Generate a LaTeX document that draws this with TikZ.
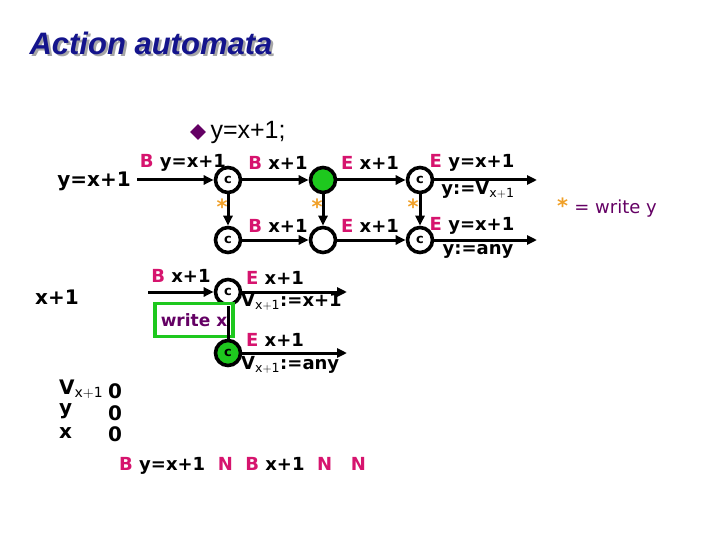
\documentclass[tikz,border=0pt]{standalone}
\usepackage{fontspec}
\setmainfont{DejaVu Sans}
\newfontfamily\arialf{Liberation Sans}
\usetikzlibrary{arrows.meta,shapes.geometric}
\definecolor{mag}{RGB}{214,20,110}
\definecolor{navy}{RGB}{20,20,140}
\definecolor{purp}{RGB}{100,0,100}
\definecolor{org}{RGB}{240,160,40}
\definecolor{grn}{RGB}{30,200,30}
\newcommand{\Bm}{\textcolor{mag}{B}}
\newcommand{\Em}{\textcolor{mag}{E}}
\newcommand{\Vx}{V$_{\mathrm{\scriptstyle x+1}}$}
\begin{document}
\begin{tikzpicture}[x=1pt,y=-1pt,
  st/.style={circle,draw,line width=3.6pt,minimum size=25pt,inner sep=0pt,font=\bfseries\fontsize{13}{13}\selectfont},
  ln/.style={line width=3pt},
  ar/.style={ln,-{Triangle[length=10pt,width=9pt]}},
  lb/.style={font=\bfseries\fontsize{18}{18}\selectfont,inner sep=1pt},
  bl/.style={font=\bfseries\fontsize{20}{20}\selectfont,inner sep=1pt},
  star/.style={text=org,font=\bfseries\fontsize{21}{21}\selectfont,inner sep=0pt}]
\useasboundingbox (0,0) rectangle (720,540);
% title
\node[anchor=west,font=\arialf\bfseries\itshape\fontsize{31}{31}\selectfont,text=black!35] (shadow) at (28.5,45.5) {Action automata};
\node[anchor=west,font=\arialf\bfseries\itshape\fontsize{31}{31}\selectfont,text=navy] (title) at (26,43) {Action automata};
\node[diamond,fill=purp,minimum size=16pt,inner sep=0pt] (bul) at (198,132) {};
\node[anchor=west,font=\arialf\fontsize{25}{25}\selectfont] (code) at (207,132) {y=x+1;};
% states
\node[st] (c1) at (228,180) {c};
\node[st,fill=grn] (g1) at (323,180) {};
\node[st] (c3) at (420,180) {c};
\node[st] (c4) at (228,240) {c};
\node[st] (e2) at (323,240) {};
\node[st] (c6) at (420,240) {c};
\node[st] (c7) at (228,292) {c};
\node[st,fill=grn] (c8) at (228,353) {c};
\coordinate (s1) at (137,180);
\coordinate (t1) at (537,180);
\coordinate (t2) at (537,240);
\coordinate (s3) at (148,292);
\coordinate (t3) at (347,292);
\coordinate (t4) at (347,353);
\draw[ar] (s1) -- (c1);
\draw[ar] (c1) -- (g1);
\draw[ar] (g1) -- (c3);
\draw[ar] (c3) -- (t1);
\draw[ar] (c4) -- (e2);
\draw[ar] (e2) -- (c6);
\draw[ar] (c6) -- (t2);
\draw[ar] (c1) -- (c4);
\draw[ar] (g1) -- (e2);
\draw[ar] (c3) -- (c6);
\draw[ar] (s3) -- (c7);
\draw[ar] (c7) -- (t3);
\draw[ar] (c8) -- (t4);
\node[draw=grn,line width=3.5pt,fill=white,minimum width=78pt,minimum height=33pt,inner sep=0pt,text=purp,font=\bfseries\fontsize{17}{17}\selectfont] (wx) at (194,320) {write x};
\draw[ln] (c7) -- (c8);
\node[star] (st1) at (222,207) {*};
\node[star] (st2) at (317,207) {*};
\node[star] (st3) at (413,207) {*};
% labels
\node[bl,anchor=east] (l0) at (132,181) {y=x+1};
\node[lb] (l1) at (183,163) {\Bm{} y=x+1};
\node[lb] (l2) at (278,163) {\Bm{} x+1};
\node[lb] (l3) at (370,163) {\Em{} x+1};
\node[lb] (l4) at (472,163) {\Em{} y=x+1};
\node[lb] (l5) at (478,190) {y:=\Vx};
\node[lb] (l6) at (278,226) {\Bm{} x+1};
\node[lb] (l7) at (370,226) {\Em{} x+1};
\node[lb] (l8) at (472,226) {\Em{} y=x+1};
\node[lb] (l9) at (478,251) {y:=any};
\node[bl] (x1) at (57,297) {x+1};
\node[lb] (l10) at (181,276) {\Bm{} x+1};
\node[lb] (l11) at (275,278) {\Em{} x+1};
\node[lb,anchor=west] (l12) at (240,302) {\Vx:=x+1};
\node[lb] (l13) at (275,340) {\Em{} x+1};
\node[lb,anchor=west] (l14) at (240,365) {\Vx:=any};
\node[lb,anchor=west] (leg) at (556,208) {\textcolor{org}{\fontsize{21}{21}\selectfont*} \textcolor{purp}{\mdseries = write y}};
% table
\node[bl,anchor=west] (v1) at (58,389) {\Vx};
\node[bl,anchor=west] (v2) at (58,411) {y};
\node[bl,anchor=west] (v3) at (58,433) {x};
\node[bl] (n1) at (115,391) {0};
\node[bl] (n2) at (115,413) {0};
\node[bl] (n3) at (115,434) {0};
\node[lb,anchor=west] (bot) at (118,466) {\Bm{} y=x+1 \ \textcolor{mag}{N} \ \Bm{} x+1 \ \textcolor{mag}{N} \ \ \textcolor{mag}{N}};
\end{tikzpicture}
\end{document}
